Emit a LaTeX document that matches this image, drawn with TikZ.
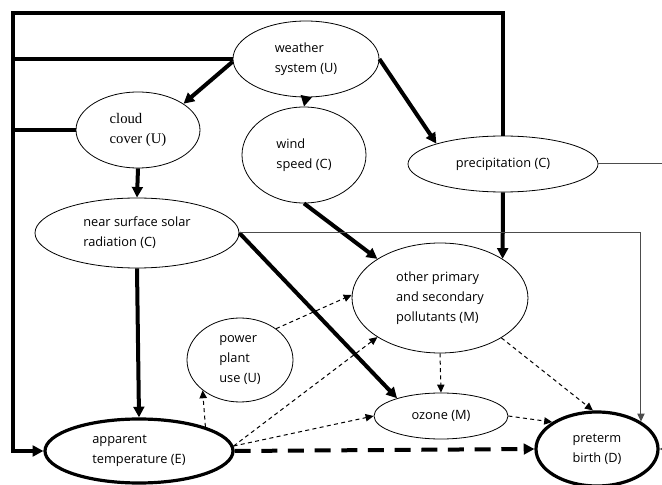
\documentclass[tikz,border=0pt]{standalone}
\usepackage{fontspec}
\setmainfont{Open Sans}
\newfontfamily\cloudfont{Liberation Serif}
\usetikzlibrary{shapes.geometric,arrows.meta}
\begin{document}
\begin{tikzpicture}[x=0.75pt,y=-0.75pt,
  ell/.style 2 args={ellipse,draw,line width=0.6pt,minimum width=#1*1.5pt,minimum height=#2*1.5pt,inner sep=0pt,align=left,font=\fontsize{9.6}{15}\selectfont},
  thickell/.style={line width=2.4pt},
  thk/.style={line width=3pt},
  thkarr/.style={line width=3pt,-{Triangle[length=8pt,width=8pt]}},
  thnarr/.style={line width=0.75pt,-{Triangle[length=6pt,width=5.5pt]}},
  dsh/.style={thnarr,dash pattern=on 3pt off 2.5pt},
  bigdsh/.style={line width=3pt,dash pattern=on 12pt off 8pt,-{Triangle[length=8pt,width=8pt]}},
  gry/.style={draw=black!70}
]
\useasboundingbox (0,0) rectangle (662,485);

\node[ell={73}{38}] (ws) at (306,59) {weather\\system (U)};
\node[ell={62}{38},font=\cloudfont\fontsize{11}{15}\selectfont] (cc) at (138,130) {cloud\\cover (U)};
\node[ell={62}{48}] (wsp) at (304,155) {wind\\speed (C)};
\node[ell={95}{28}] (pr) at (503,164) {precipitation (C)};
\node[ell={102}{35}] (ns) at (137,233) {near surface solar\\radiation (C)};
\node[ell={88}{55}] (op) at (440,298) {other primary\\and secondary\\pollutants (M)};
\node[ell={53}{42}] (pp) at (240,360) {power\\plant\\use (U)};
\node[ell={67}{23}] (oz) at (441,416) {ozone (M)};
\node[ell={94}{32},thickell] (at) at (139,451) {apparent\\temperature (E)};
\node[ell={61}{37},thickell] (pb) at (597,449) {preterm\\birth (D)};

\coordinate (tl) at (13,13);
\coordinate (prout) at (664,164);
\coordinate (pbin) at (666,449);

\draw[thkarr] (pr.north) |- (tl) |- (at.west);
\draw[thk] (ws.west) -- (ws.west -| tl);
\draw[thk] (cc.west) -- (cc.west -| tl);
\draw[thkarr] (ws.182) -- (cc.30);
\draw[thkarr] (ws.south) -- (wsp.north);
\draw[thkarr] (ws.east) -- (pr.163);
\draw[thkarr] (cc.south) -- (ns.north);
\draw[thkarr] (wsp.south) -- (op.148);
\draw[thkarr] (pr.south) -- (op.32);
\draw[thkarr] (ns.south) -- (at.north);
\draw[thkarr] (ns.east) -- (oz.158);
\draw[thnarr,gry] (ns.east) -| (pb.32);
\draw[gry,line width=0.75pt] (pr.east) -- (prout);
\draw[thnarr,gry] (pbin) -- (pb.east);
\draw[dsh] (at.20) -- (pp.219);
\draw[dsh] (at.3) -- (op.212);
\draw[dsh] (at.3) -- (oz.west);
\draw[dsh] (pp.41) -- (op.178);
\draw[bigdsh] (at.east) -- (pb.west);
\draw[dsh] (op.south) -- (oz.north);
\draw[dsh] (op.327) -- (pb.96);
\draw[dsh] (oz.east) -- (pb.149);
\end{tikzpicture}
\end{document}
